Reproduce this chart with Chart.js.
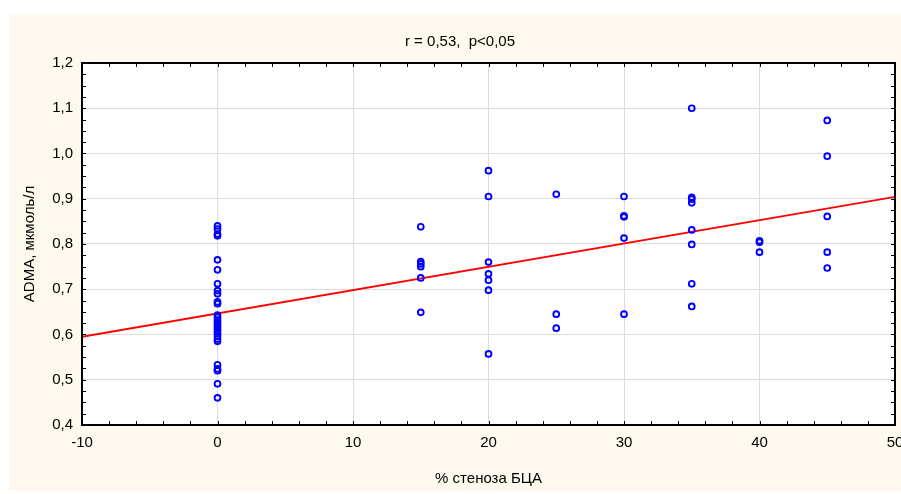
<!DOCTYPE html>
<html lang="ru">
<head>
    <meta charset="UTF-8">
    <title>ADMA vs % стеноза БЦА</title>
    <script src="https://cdn.jsdelivr.net/npm/chart.js"></script>
    <style>
        html, body { margin: 0; padding: 0; background: #ffffff; }
        #wrap { width: 901px; height: 494px; position: relative; }
    </style>
</head>
<body>
    <div id="wrap"><canvas id="scatterChart"></canvas></div>

    <script>
        // stenosis groups (% стеноза БЦА) and ADMA values
        const stenosisGroups = [0, 15, 20, 25, 30, 35, 40, 45];
        const admaAt0 = [0.840, 0.833, 0.822, 0.818, 0.765, 0.743, 0.712, 0.697, 0.690, 0.672, 0.668,
                         0.643, 0.638, 0.632, 0.627, 0.622, 0.617, 0.612, 0.607, 0.602, 0.596, 0.590, 0.585,
                         0.533, 0.524, 0.520, 0.491, 0.460];
        const admaAt15 = [0.838, 0.761, 0.756, 0.750, 0.725, 0.649];
        const admaAt20 = [0.962, 0.905, 0.760, 0.734, 0.720, 0.698, 0.557];
        const admaAt25 = [0.910, 0.645, 0.614];
        const admaAt30 = [0.905, 0.862, 0.860, 0.813, 0.645];
        const admaAt35 = [1.100, 0.903, 0.899, 0.891, 0.831, 0.799, 0.712, 0.662];
        const admaAt40 = [0.807, 0.804, 0.782];
        const admaAt45 = [1.073, 0.994, 0.861, 0.782, 0.747];
        const admaGroups = [admaAt0, admaAt15, admaAt20, admaAt25, admaAt30, admaAt35, admaAt40, admaAt45];

        // regression line end points
        const fitX = [-10, 50];
        const fitY = [0.595, 0.904];

        const xTicks = [-10, 0, 10, 20, 30, 40, 50];
        const yTicks = [0.4, 0.5, 0.6, 0.7, 0.8, 0.9, 1.0, 1.1, 1.2];
        const titleText = 'r = 0,53,  p<0,05';

        const points = [];
        stenosisGroups.forEach((x, i) => {
            admaGroups[i].forEach(y => points.push({ x: x, y: y }));
        });
        const fitLine = fitX.map((x, i) => ({ x: x, y: fitY[i] }));

        const FONT = 'Arial, "Liberation Sans", sans-serif';

        // cream background, white plot area, frame with inward ticks, title
        const framePlugin = {
            id: 'frame',
            beforeDraw(chart) {
                const ctx = chart.ctx, a = chart.chartArea;
                ctx.save();
                ctx.fillStyle = '#fdf9ef';
                ctx.fillRect(9, 14, 892, 477);
                ctx.fillStyle = '#ffffff';
                ctx.fillRect(a.left, a.top, a.right - a.left, a.bottom - a.top);
                ctx.restore();
            },
            afterDatasetsDraw(chart) {
                const ctx = chart.ctx, a = chart.chartArea;
                const xs = chart.scales.x, ys = chart.scales.y;
                ctx.save();
                ctx.strokeStyle = '#000';
                ctx.lineWidth = 1;
                ctx.beginPath();
                for (let v = -10; v <= 50.001; v += 2) {
                    const px = Math.round(xs.getPixelForValue(v)) + 0.5;
                    ctx.moveTo(px, a.bottom); ctx.lineTo(px, a.bottom - 4);
                    ctx.moveTo(px, a.top); ctx.lineTo(px, a.top + 4);
                }
                for (let v = 0.4; v <= 1.2001; v += 0.025) {
                    const py = Math.round(ys.getPixelForValue(v)) + 0.5;
                    ctx.moveTo(a.left, py); ctx.lineTo(a.left + 4, py);
                    ctx.moveTo(a.right, py); ctx.lineTo(a.right - 4, py);
                }
                ctx.stroke();
                ctx.lineWidth = 2;
                ctx.strokeRect(a.left, a.top, a.right - a.left, a.bottom - a.top);

                ctx.fillStyle = '#000';
                ctx.font = '15px ' + FONT;
                ctx.textAlign = 'center';
                ctx.textBaseline = 'middle';
                ctx.fillText(titleText, 460, 42);
                ctx.restore();
            }
        };

        const ctx = document.getElementById('scatterChart').getContext('2d');
        new Chart(ctx, {
            type: 'scatter',
            data: {
                datasets: [{
                    label: 'ADMA',
                    data: points,
                    pointStyle: 'circle',
                    pointRadius: 2.9,
                    pointBorderWidth: 1.9,
                    borderColor: '#0000ff',
                    backgroundColor: 'rgba(255,255,255,0)',
                    pointHoverRadius: 2.9
                }, {
                    label: 'fit',
                    data: fitLine,
                    showLine: true,
                    pointRadius: 0,
                    borderColor: '#ff0000',
                    borderWidth: 1.8
                }]
            },
            options: {
                responsive: true,
                maintainAspectRatio: false,
                animation: false,
                layout: { padding: { top: 63, right: 6, bottom: 0, left: 0 } },
                plugins: {
                    legend: { display: false },
                    tooltip: { enabled: false },
                    title: { display: false }
                },
                scales: {
                    x: {
                        type: 'linear',
                        min: -10,
                        max: 50,
                        afterBuildTicks: s => { s.ticks = xTicks.map(v => ({ value: v })); },
                        ticks: {
                            color: '#000',
                            font: { family: FONT, size: 15 },
                            padding: 9,
                            maxRotation: 0,
                            callback: v => String(v)
                        },
                        grid: { color: '#dcdcdc', lineWidth: 1, drawTicks: false },
                        border: { display: true, color: '#000', width: 2 },
                        title: {
                            display: true,
                            text: '% стеноза БЦА',
                            color: '#000',
                            font: { family: FONT, size: 15 },
                            padding: { top: 0, bottom: 6 }
                        },
                        afterFit: s => { s.height = 69; s.paddingLeft = 0; s.paddingRight = 0; }
                    },
                    y: {
                        type: 'linear',
                        min: 0.4,
                        max: 1.2,
                        afterBuildTicks: s => { s.ticks = yTicks.map(v => ({ value: v })); },
                        ticks: {
                            color: '#000',
                            font: { family: FONT, size: 15 },
                            padding: 9,
                            callback: v => v.toFixed(1).replace('.', ',')
                        },
                        grid: { color: '#dcdcdc', lineWidth: 1, drawTicks: false },
                        border: { display: true, color: '#000', width: 2 },
                        title: {
                            display: true,
                            text: 'ADMA, мкмоль/л',
                            color: '#000',
                            font: { family: FONT, size: 15 },
                            padding: { top: 21, bottom: 0 }
                        },
                        afterFit: s => { s.width = 82; s.paddingTop = 0; s.paddingBottom = 0; }
                    }
                }
            },
            plugins: [framePlugin]
        });
    </script>
</body>
</html>
